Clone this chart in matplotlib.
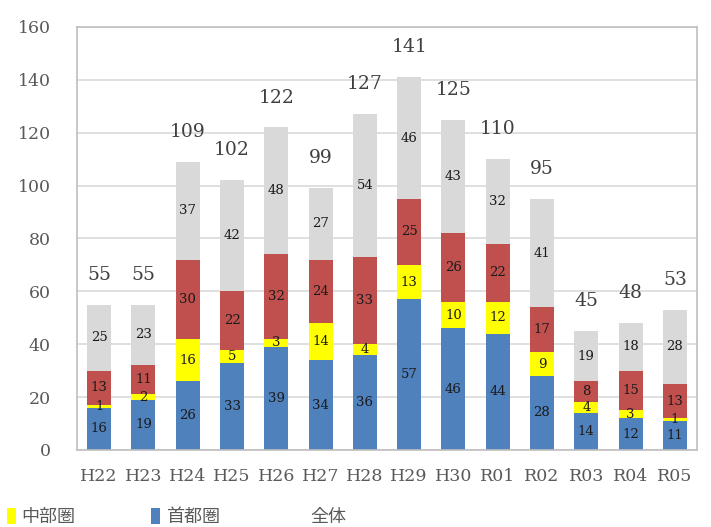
import numpy as np
import matplotlib
matplotlib.use('Agg')
import matplotlib.pyplot as plt
from matplotlib.patches import Patch
from matplotlib.lines import Line2D

plt.rcParams['font.family'] = ['DejaVu Serif', 'Noto Sans CJK JP']

years = ['H22', 'H23', 'H24', 'H25', 'H26', 'H27', 'H28', 'H29', 'H30',
         'R01', 'R02', 'R03', 'R04', 'R05']
shutoken = [16, 19, 26, 33, 39, 34, 36, 57, 46, 44, 28, 14, 12, 11]
chubuken = [1, 2, 16, 5, 3, 14, 4, 13, 10, 12, 9, 4, 3, 1]
kinkiken = [13, 11, 30, 22, 32, 24, 33, 25, 26, 22, 17, 8, 15, 13]
sonota = [25, 23, 37, 42, 48, 27, 54, 46, 43, 32, 41, 19, 18, 28]
zentai = [55, 55, 109, 102, 122, 99, 127, 141, 125, 110, 95, 45, 48, 53]

series = [
    (shutoken, '#4F81BD'),
    (chubuken, '#FFFF00'),
    (kinkiken, '#C0504D'),
    (sonota, '#D9D9D9'),
]

fig = plt.figure(figsize=(7.11, 5.27), dpi=100)
ax = fig.add_axes([77 / 711, 1 - 450 / 527, 620 / 711, 423 / 527])

x = np.arange(len(years))
bottom = np.zeros(len(years))
for vals, color in series:
    vals = np.array(vals, dtype=float)
    ax.bar(x, vals, bottom=bottom, width=0.54, color=color, zorder=2)
    for xi, b, v in zip(x, bottom, vals):
        ax.text(xi, b + v / 2, f'{int(v)}', ha='center', va='center',
                fontsize=9.5, color='#1a1a1a', zorder=3)
    bottom += vals

# totals above each stack
for xi, t in zip(x, zentai):
    ax.annotate(f'{t}', (xi, t), xytext=(0, 21.5), textcoords='offset points',
                ha='center', va='center', fontsize=13.5, color='#404040')

ax.set_xlim(-0.5, len(years) - 0.5)
ax.set_ylim(0, 160)
ax.set_yticks(range(0, 161, 20))
ax.set_xticks(x)
ax.set_xticklabels(years)
ax.tick_params(axis='both', length=0, labelsize=12.5, colors='#595959')
ax.tick_params(axis='y', pad=19)
ax.tick_params(axis='x', pad=13)
ax.grid(axis='y', color='#D9D9D9', linewidth=1.2, zorder=0)
for s in ax.spines.values():
    s.set_color('#BFBFBF')
    s.set_linewidth(1.2)

handles = [
    Patch(facecolor='#FFFF00', edgecolor='none'),
    Patch(facecolor='#4F81BD', edgecolor='none'),
    Line2D([], [], color='none'),
]
fig.legend(handles, ['中部圏', '首都圏', '全体'], loc='center left',
           bbox_to_anchor=(7 / 711, 1 - 517 / 527), ncol=3, frameon=False,
           handlelength=0.5, handleheight=1.0, handletextpad=0.3,
           columnspacing=4.2, borderpad=0, borderaxespad=0,
           prop={'family': ['Noto Sans CJK JP'], 'size': 13},
           labelcolor='#595959')

fig.savefig('out.png', dpi=100)
